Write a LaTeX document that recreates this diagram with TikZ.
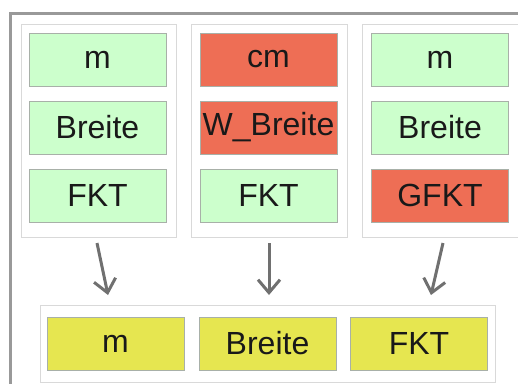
\documentclass[tikz,border=0pt]{standalone}
\usepackage{fontspec}
\setmainfont{Liberation Sans}
\usetikzlibrary{arrows.meta}
\definecolor{cgreen}{HTML}{CCFFCC}
\definecolor{cred}{HTML}{EE6E55}
\definecolor{cyellow}{HTML}{E6E650}
\definecolor{cframe}{HTML}{999999}
\definecolor{cgroup}{HTML}{D9D9D9}
\definecolor{cinner}{HTML}{A8B0A8}
\definecolor{carrow}{HTML}{707070}
\tikzset{
  groupbox/.style={draw=cgroup, line width=1pt, fill=white},
  cell/.style={draw=cinner, line width=1pt, minimum width=137pt, minimum height=53pt, inner sep=0pt, font=\fontsize{32}{34}\selectfont, text=black!90},
  okcell/.style={cell, fill=cgreen},
  badcell/.style={cell, fill=cred},
  rescell/.style={cell, fill=cyellow},
  flow/.style={draw=carrow, line width=3pt, -{Straight Barb[length=13pt,width=22pt,line width=3pt]}}
}
\begin{document}
\begin{tikzpicture}[x=1pt,y=-1pt]
\useasboundingbox (0,0) rectangle (518,383);
\begin{scope}
\clip (0,0) rectangle (518,383);
\draw[cframe, line width=3pt] (10,13) rectangle (540,400);
% group boxes
\node[groupbox, minimum width=155pt, minimum height=213pt, inner sep=0pt] (g1) at (98.5,130.5) {};
\node[groupbox, minimum width=156pt, minimum height=213pt, inner sep=0pt] (g2) at (269,130.5) {};
\node[groupbox, minimum width=156pt, minimum height=213pt, inner sep=0pt] (g3) at (440,130.5) {};
\node[groupbox, minimum width=455pt, minimum height=77pt, inner sep=0pt] (gr) at (267.5,343.5) {};
% cells
\node[okcell] (a1) at (97.5,59.5) {m};
\node[okcell] (a2) at (97.5,127.5) {Breite};
\node[okcell] (a3) at (97.5,195.5) {FKT};
\node[badcell] (b1) at (268.5,59.5) {cm};
\node[badcell] (b2) at (268.5,127.5) {W\_Breite};
\node[okcell] (b3) at (268.5,195.5) {FKT};
\node[okcell] (c1) at (440,59.5) {m};
\node[okcell] (c2) at (440,127.5) {Breite};
\node[badcell] (c3) at (440,195.5) {GFKT};
\node[rescell] (r1) at (115.5,343.5) {m};
\node[rescell] (r2) at (267.5,343.5) {Breite};
\node[rescell] (r3) at (419,343.5) {FKT};
% arrow ends
\coordinate (s1) at (97,243);
\coordinate (e1) at (108,295);
\coordinate (s2) at (269,243);
\coordinate (e2) at (269,295);
\coordinate (s3) at (443,243);
\coordinate (e3) at (431,295);
\draw[flow] (s1) -- (e1);
\draw[flow] (s2) -- (e2);
\draw[flow] (s3) -- (e3);
\end{scope}
\end{tikzpicture}
\end{document}
